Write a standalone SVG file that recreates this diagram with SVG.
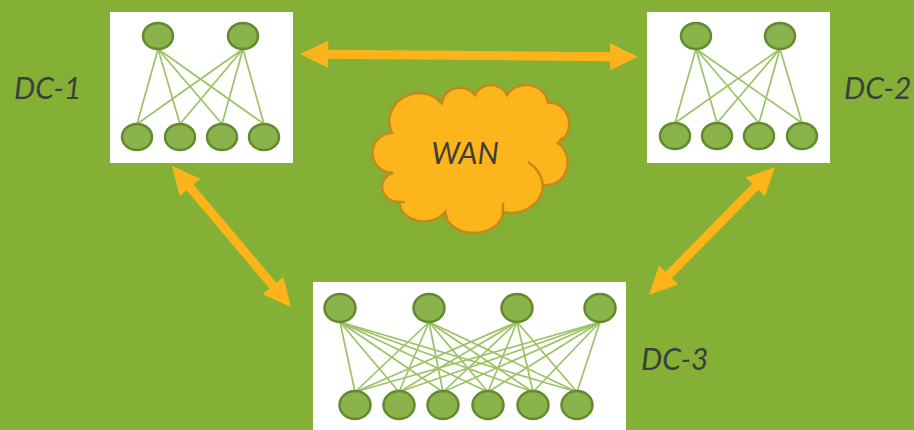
<svg xmlns="http://www.w3.org/2000/svg" width="914" height="430" viewBox="0 0 914 430">
<style>
.box{fill:#ffffff}
.n{fill:#8ab44b;stroke:#638a2f;stroke-width:2.5}
.e{stroke:#9dc266;stroke-width:1.7;fill:none}
.lbl{font-family:Lato,"Open Sans","Liberation Sans",sans-serif;font-style:italic;font-size:30px;fill:#3e3e3e}
.arrow{fill:#fdb41b}
.cloud{fill:#fdb51c;stroke:#c38a1b;stroke-width:2.5}
.cl{fill:none;stroke:#c38a1b;stroke-width:2.5}
</style>
<rect width="914" height="430" fill="#84b036"/>

<g id="connectors">
  <polygon class="arrow" transform="translate(300,54) rotate(0.51)" points="0,0 28,-13.5 28,-4.5 310,-4.5 310,-13.5 338,0 310,13.5 310,4.5 28,4.5 28,13.5"/>
  <polygon class="arrow" transform="translate(172,166) rotate(49.84)" points="0,0 28,-13.5 28,-4.5 156.5,-4.5 156.5,-13.5 184.5,0 156.5,13.5 156.5,4.5 28,4.5 28,13.5"/>
  <polygon class="arrow" transform="translate(775,167) rotate(134.56)" points="0,0 28,-13.5 28,-4.5 151.6,-4.5 151.6,-13.5 179.6,0 151.6,13.5 151.6,4.5 28,4.5 28,13.5"/>
</g>

<g id="dc1">
  <rect class="box" x="110" y="12" width="183" height="151"/>
  <g class="e">
    <line x1="158" y1="49" x2="137" y2="124"/><line x1="158" y1="49" x2="180" y2="124"/>
    <line x1="158" y1="49" x2="222" y2="124"/><line x1="158" y1="49" x2="264" y2="124"/>
    <line x1="243" y1="49" x2="137" y2="124"/><line x1="243" y1="49" x2="180" y2="124"/>
    <line x1="243" y1="49" x2="222" y2="124"/><line x1="243" y1="49" x2="264" y2="124"/>
  </g>
  <ellipse class="n" cx="158" cy="36" rx="15" ry="13"/>
  <ellipse class="n" cx="243" cy="36" rx="15" ry="13"/>
  <ellipse class="n" cx="137" cy="137" rx="15" ry="13"/>
  <ellipse class="n" cx="180" cy="137" rx="15" ry="13"/>
  <ellipse class="n" cx="222" cy="137" rx="15" ry="13"/>
  <ellipse class="n" cx="264" cy="137" rx="15" ry="13"/>
  <text class="lbl" x="14" y="99">DC-1</text>
</g>

<g id="dc2">
  <rect class="box" x="647" y="12" width="183" height="151"/>
  <g class="e">
    <line x1="696" y1="49" x2="675" y2="123"/><line x1="696" y1="49" x2="717" y2="123"/>
    <line x1="696" y1="49" x2="759" y2="123"/><line x1="696" y1="49" x2="802" y2="123"/>
    <line x1="780" y1="49" x2="675" y2="123"/><line x1="780" y1="49" x2="717" y2="123"/>
    <line x1="780" y1="49" x2="759" y2="123"/><line x1="780" y1="49" x2="802" y2="123"/>
  </g>
  <ellipse class="n" cx="696" cy="36" rx="15" ry="13"/>
  <ellipse class="n" cx="780" cy="36" rx="15" ry="13"/>
  <ellipse class="n" cx="675" cy="136" rx="15" ry="13"/>
  <ellipse class="n" cx="717" cy="136" rx="15" ry="13"/>
  <ellipse class="n" cx="759" cy="136" rx="15" ry="13"/>
  <ellipse class="n" cx="802" cy="136" rx="15" ry="13"/>
  <text class="lbl" x="844" y="99">DC-2</text>
</g>

<g id="dc3">
  <rect class="box" x="313" y="282" width="313" height="150"/>
  <g class="e">
    <line x1="340" y1="322" x2="355" y2="392"/><line x1="340" y1="322" x2="399" y2="392"/><line x1="340" y1="322" x2="443" y2="392"/>
    <line x1="340" y1="322" x2="488" y2="392"/><line x1="340" y1="322" x2="533" y2="392"/><line x1="340" y1="322" x2="577" y2="392"/>
    <line x1="429" y1="322" x2="355" y2="392"/><line x1="429" y1="322" x2="399" y2="392"/><line x1="429" y1="322" x2="443" y2="392"/>
    <line x1="429" y1="322" x2="488" y2="392"/><line x1="429" y1="322" x2="533" y2="392"/><line x1="429" y1="322" x2="577" y2="392"/>
    <line x1="517" y1="322" x2="355" y2="392"/><line x1="517" y1="322" x2="399" y2="392"/><line x1="517" y1="322" x2="443" y2="392"/>
    <line x1="517" y1="322" x2="488" y2="392"/><line x1="517" y1="322" x2="533" y2="392"/><line x1="517" y1="322" x2="577" y2="392"/>
    <line x1="600" y1="322" x2="355" y2="392"/><line x1="600" y1="322" x2="399" y2="392"/><line x1="600" y1="322" x2="443" y2="392"/>
    <line x1="600" y1="322" x2="488" y2="392"/><line x1="600" y1="322" x2="533" y2="392"/><line x1="600" y1="322" x2="577" y2="392"/>
  </g>
  <ellipse class="n" cx="340" cy="308" rx="15.5" ry="14"/>
  <ellipse class="n" cx="429" cy="308" rx="15.5" ry="14"/>
  <ellipse class="n" cx="517" cy="308" rx="15.5" ry="14"/>
  <ellipse class="n" cx="600" cy="308" rx="15.5" ry="14"/>
  <ellipse class="n" cx="355" cy="405" rx="15.5" ry="14"/>
  <ellipse class="n" cx="399" cy="405" rx="15.5" ry="14"/>
  <ellipse class="n" cx="443" cy="405" rx="15.5" ry="14"/>
  <ellipse class="n" cx="488" cy="405" rx="15.5" ry="14"/>
  <ellipse class="n" cx="533" cy="405" rx="15.5" ry="14"/>
  <ellipse class="n" cx="577" cy="405" rx="15.5" ry="14"/>
  <text class="lbl" x="641" y="370">DC-3</text>
</g>

<g id="wan">
  <path class="cloud" d="M 393 173 A 20 20 0 0 1 392 133 A 30 28 0 0 1 442 103 A 18 16 0 0 1 475 95 A 17 15 0 0 1 507 95 A 22 20 0 0 1 548 103 A 19 21 0 0 1 558 143 A 21 23 0 0 1 543 185 A 32 28 0 0 1 503 212 A 29 21 0 0 1 445 212 A 24 18 0 0 1 400 202 A 17 15 0 0 1 393 173 Z"/>
  <path class="cl" d="M 528 162 Q 541 170 543 185 M 558 143 L 563 137 M 503 212 L 503 203 M 445 212 L 447 218 M 400 202 L 405 202 M 393 173 L 385 172 M 442 103 L 438 101"/>
  <text class="lbl" x="465" y="164" text-anchor="middle" font-size="28">WAN</text>
</g>
</svg>
